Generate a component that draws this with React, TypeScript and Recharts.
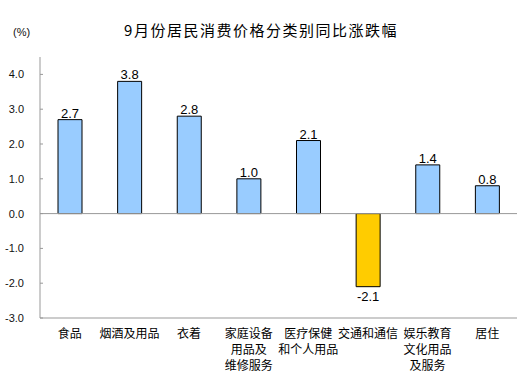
import { Bar, BarChart, Cell, LabelList, ReferenceLine, XAxis, YAxis } from "recharts";

const categories = ["食品", "烟酒及用品", "衣着", "家庭设备\n用品及\n维修服务", "医疗保健\n和个人用品", "交通和通信", "娱乐教育\n文化用品\n及服务", "居住"];
const changes = [2.7, 3.8, 2.8, 1.0, 2.1, -2.1, 1.4, 0.8];
const yTicks = [-3, -2, -1, 0, 1, 2, 3, 4];

const data = categories.map((name, i) => ({ name, value: changes[i] }));

const numFont = "'Liberation Sans', Arial, sans-serif";
const cjkFont = "'Noto Sans CJK SC', sans-serif";

function YTick({ x, y, payload }: any) {
  return (
    <g>
      <line x1={40} x2={43} y1={y} y2={y} stroke="#999" />
      <text x={x} y={y + 4} textAnchor="end" fontSize={11} fontFamily={numFont} fill="#111">
        {Number(payload.value).toFixed(1)}
      </text>
    </g>
  );
}

function XTick({ x, y, payload }: any) {
  const lines = String(payload.value).split("\n");
  return (
    <text x={x} y={y} textAnchor="middle" fontSize={12} fontFamily={cjkFont} fill="#000">
      {lines.map((line, i) => (
        <tspan key={i} x={x} dy={i === 0 ? 14 : 16}>
          {line}
        </tspan>
      ))}
    </text>
  );
}

function ValueLabel({ x, y, width, height, value }: any) {
  const top = Math.min(y, y + height);
  const bottom = Math.max(y, y + height);
  const ty = value >= 0 ? top - 2 : bottom + 14;
  return (
    <text x={x + width / 2} y={ty} textAnchor="middle" fontSize={13} fontFamily={numFont} fill="#000">
      {Number(value).toFixed(1)}
    </text>
  );
}

export default function App() {
  return (
    <div style={{ position: "absolute", left: 0, top: 0, width: 532, height: 391, background: "#fff" }}>
      <div
        style={{
          position: "absolute",
          left: 0,
          width: 522,
          top: 19,
          textAlign: "center",
          fontFamily: cjkFont,
          fontSize: 15,
          letterSpacing: 1.5,
          color: "#000",
        }}
      >
        9月份居民消费价格分类别同比涨跌幅
      </div>
      <div style={{ position: "absolute", left: 13, top: 26, fontFamily: numFont, fontSize: 11, color: "#111" }}>(%)</div>
      <BarChart width={532} height={391} data={data} margin={{ top: 57, right: 15, bottom: 0, left: 0 }}>
        <XAxis
          dataKey="name"
          height={73}
          interval={0}
          tick={<XTick />}
          tickLine={false}
          axisLine={{ stroke: "#999" }}
          tickMargin={0}
        />
        <XAxis xAxisId="top" orientation="top" dataKey="name" height={0} tick={false} tickLine={false} axisLine={{ stroke: "#999" }} />
        <YAxis
          width={40}
          domain={[-3, 4.5]}
          ticks={yTicks}
          interval={0}
          tick={<YTick />}
          tickLine={false}
          tickMargin={10}
          allowDataOverflow
          axisLine={{ stroke: "#999" }}
        />
        <YAxis yAxisId="right" orientation="right" width={0} tick={false} tickLine={false} axisLine={{ stroke: "#999" }} />
        <ReferenceLine y={0} stroke="#999" />
        <Bar dataKey="value" barSize={24} stroke="#000" strokeWidth={1} isAnimationActive={false}>
          {data.map((d, i) => (
            <Cell key={i} fill={d.value < 0 ? "#FFCC00" : "#99CCFF"} />
          ))}
          <LabelList dataKey="value" content={<ValueLabel />} />
        </Bar>
      </BarChart>
    </div>
  );
}
